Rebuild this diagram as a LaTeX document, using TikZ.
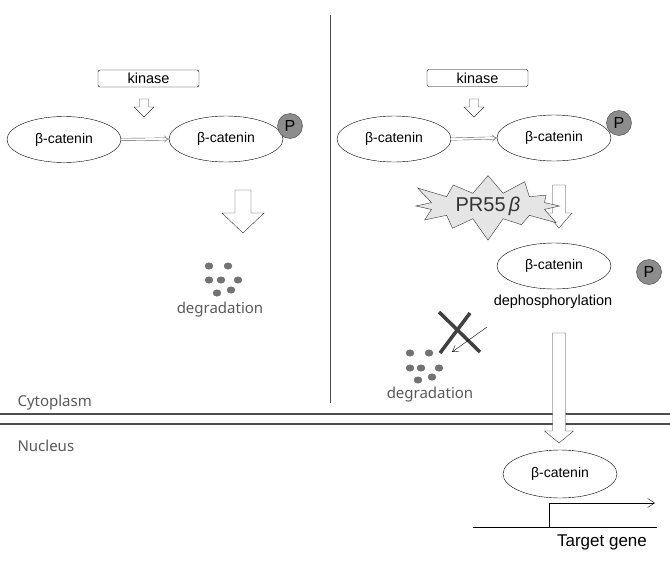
\documentclass[tikz,border=0pt]{standalone}
\usepackage{fontspec}
\setmainfont{Liberation Sans}
\newfontfamily\grayfont{Noto Sans}
\usetikzlibrary{shapes.geometric,shapes.symbols,arrows.meta}

% fat hollow arrow pointing down: x, top, head start, tip, shaft half width, head half width
\newcommand{\hollowdown}[6]{%
  \draw[black!80,fill=white] (#1-#5,#2) -- (#1+#5,#2) -- (#1+#5,#3) -- (#1+#6,#3)
    -- (#1,#4) -- (#1-#6,#3) -- (#1-#5,#3) -- cycle;}

\begin{document}
\begin{tikzpicture}[x=1pt,y=-1pt,
  cat/.style={ellipse,draw,minimum width=114pt,minimum height=46pt,inner sep=0pt,font=\fontsize{14}{16}\selectfont},
  kin/.style={draw,rounded corners=2pt,minimum width=101pt,minimum height=17pt,inner sep=0pt,font=\fontsize{14.5}{16}\selectfont},
  phos/.style={circle,draw=black!75,fill=black!45,minimum size=25pt,inner sep=0pt,font=\fontsize{16}{16}\selectfont},
  dot/.style={ellipse,draw=black!60,fill=black!55,minimum width=8pt,minimum height=6.5pt,inner sep=0pt},
  lbl/.style={text=black!65,font=\grayfont\fontsize{15}{17}\selectfont},
  conv/.style={draw=black!65,double=white,double distance=2pt,-{Implies}}]
\useasboundingbox (0,0) rectangle (670,565);

% membrane and divider
\draw[black!70] (330,15) -- (330,403);
\draw[black!70,line width=1.5pt] (0,414) -- (670,414);
\draw[black!70,line width=1.5pt] (0,424) -- (670,424);
\node[lbl,anchor=base west] (cyto) at (14,406) {Cytoplasm};
\node[lbl,anchor=base west] (nucl) at (14,451) {Nucleus};

% left: normal degradation
\node[kin] (kinL) at (148.5,78.5) {kinase};
\hollowdown{144}{99}{107}{117}{4.5}{10}
\node[cat] (catA) at (64,139.5) {β-catenin};
\node[cat] (catB) at (226,139) {β-catenin};
\draw[conv] (catA.east) -- (catB.west);
\node[phos] (pA) at (290,126) {P};
\hollowdown{243}{190}{213}{233}{8}{21}
\foreach \p in {(209,266),(228,266),(209,280),(221,280),(238,280),(217,293),(231,290)}
  \node[dot] at \p {};
\node[lbl] (degL) at (220,310) {degradation};

% right: PR55beta
\node[kin] (kinR) at (477.5,78) {kinase};
\hollowdown{474}{99}{107}{117}{4.5}{10}
\node[cat] (catC) at (394,139) {β-catenin};
\node[cat] (catD) at (554,138) {β-catenin};
\draw[conv] (catC.east) -- (catD.west);
\node[phos] (pB) at (619,123) {P};
\hollowdown{559}{185}{213}{228}{6.5}{13}
\node[starburst,draw=black!80,fill=black!10,starburst points=12,starburst point height=24pt,
  minimum width=165pt,minimum height=52pt,inner sep=0pt,font=\fontsize{20}{22}\selectfont]
  (pr) at (488,206) {\textcolor{black!80}{PR55\,{\itshape β}}};
\node[cat] (catE) at (554,266) {β-catenin};
\node[phos] (pC) at (649,272) {P};
\node[font=\fontsize{14.5}{16}\selectfont] (dephos) at (553,302) {dephosphorylation};

\draw[black!75,line width=3.5pt] (439,312) -- (480,352);
\draw[black!75,line width=3.5pt] (470,313) -- (440,353);
\coordinate (thinS) at (487,327);
\coordinate (thinE) at (452,352);
\draw[-{Straight Barb[length=6pt,width=7pt]}] (thinS) -- (thinE);
\foreach \p in {(410,353),(429,353),(410,368),(421,368),(439,368),(418,380),(432,377)}
  \node[dot] at \p {};
\node[lbl] (degR) at (430,395) {degradation};

\hollowdown{559}{333}{431}{443}{6.5}{14.5}

% nucleus
\node[cat,minimum height=48pt] (catF) at (560,474) {β-catenin};
\coordinate (geneL) at (473,527);
\coordinate (geneR) at (657,527);
\coordinate (tss) at (549,527);
\coordinate (tssTop) at (549,503);
\coordinate (tssEnd) at (655,503);
\draw (geneL) -- (geneR);
\draw[-{Straight Barb[length=7pt,width=9pt]}] (tss) -- (tssTop) -- (tssEnd);
\node[font=\fontsize{17}{19}\selectfont] (target) at (602,542) {Target gene};
\end{tikzpicture}
\end{document}
